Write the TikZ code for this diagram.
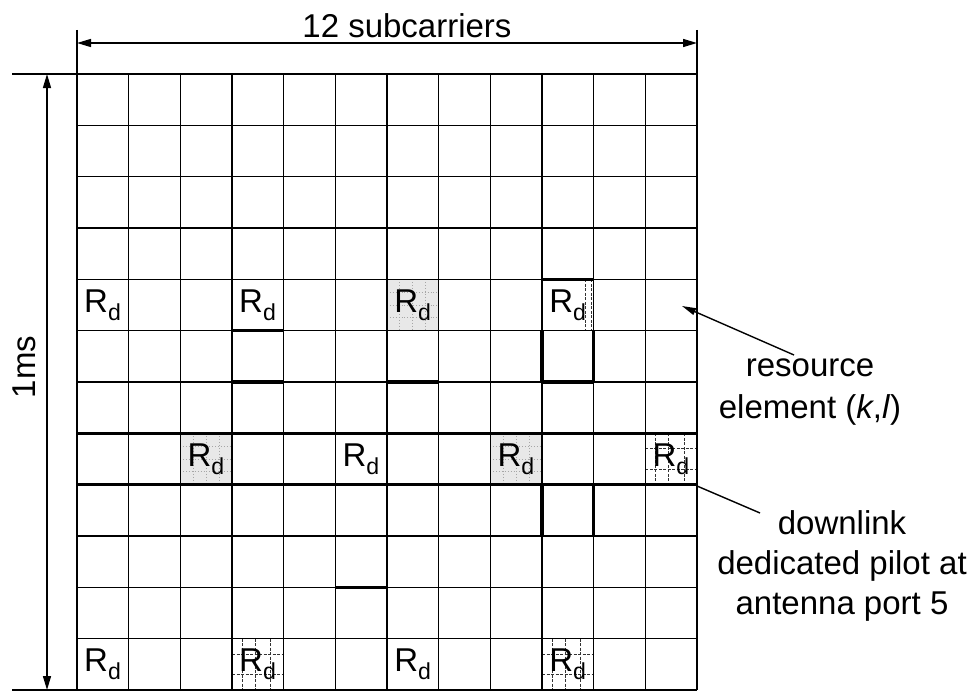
\documentclass[tikz,border=0pt]{standalone}
\usepackage{fontspec}
\setmainfont{Liberation Sans}
\usetikzlibrary{arrows.meta,positioning}

% cell size of the resource grid
\def\cw{51.667}
\def\ch{51.333}

% light dotted shading of one cell (column, row)
\newcommand{\dotshade}[2]{%
  \fill[gray!18] ({77+(#1-1)*\cw},{74+(#2-1)*\ch}) rectangle +(\cw,\ch);
  \foreach \f in {0.25,0.5,0.75} {
    \draw[gray!70, dotted, line width=0.9pt] ({77+(#1-1+\f)*\cw},{74+(#2-1)*\ch}) -- +(0,\ch);
    \draw[gray!70, dotted, line width=0.9pt] ({77+(#1-1)*\cw},{74+(#2-1+\f)*\ch}) -- +(\cw,0);
  }
}
% dark cross hatching of one cell (column, row)
\newcommand{\gridshade}[2]{%
  \foreach \f in {0.2,0.45,0.75} {
    \draw[black!80, dash pattern=on 3pt off 1.5pt, line width=1pt] ({77+(#1-1+\f)*\cw},{74+(#2-1)*\ch}) -- +(0,\ch);
  }
  \foreach \f in {0.3,0.7} {
    \draw[black!80, dash pattern=on 3pt off 1.5pt, line width=1pt] ({77+(#1-1)*\cw},{74+(#2-1+\f)*\ch}) -- +(\cw,0);
  }
}
% heavy edge of one cell: column, row, from (dx,dy) to (dx,dy) in cell units
\newcommand{\heavyedge}[6]{%
  \draw[line width=3.4pt] ({77+(#1-1+#3)*\cw},{74+(#2-1+#4)*\ch}) -- ({77+(#1-1+#5)*\cw},{74+(#2-1+#6)*\ch});
}

\begin{document}
\begin{tikzpicture}[x=1pt, y=-1pt,
    gridline/.style={line width=1.5pt, black},
    boldline/.style={line width=2.8pt, black},
    dimline/.style={line width=1.4pt, {Triangle[length=14pt,width=8pt]}-{Triangle[length=14pt,width=8pt]}},
    extline/.style={line width=1.4pt},
    pointer/.style={line width=1.4pt, -{Triangle[length=14pt,width=7pt]}},
    rd/.style={font=\fontsize{33}{36}\selectfont, inner sep=0pt},
    label/.style={font=\fontsize{33}{40}\selectfont, align=center, inner sep=0pt}
]
\useasboundingbox (0,0) rectangle (971,693);

% shaded pilot cells
\dotshade{7}{5}
\dotshade{3}{8}
\dotshade{9}{8}
\gridshade{12}{8}
\gridshade{4}{12}
\gridshade{10}{12}
\foreach \f in {0.85,0.95} {
  \draw[black!80, dash pattern=on 3pt off 1.5pt, line width=1pt] ({77+(9+\f)*\cw},{74+4*\ch}) -- +(0,\ch);
}

% resource grid
\foreach \i in {0,...,12} {
  \draw[gridline] ({77+\i*\cw},74) -- ({77+\i*\cw},690);
  \draw[gridline] (77,{74+\i*\ch}) -- (697,{74+\i*\ch});
}
\draw[boldline] (77,{74+3*\ch}) -- (697,{74+3*\ch});
\draw[boldline] (77,{74+7*\ch}) -- (697,{74+7*\ch});
\draw[boldline] (77,{74+8*\ch}) -- (697,{74+8*\ch});
\draw[boldline] (697,74) -- (697,690);

% heavier cell edges
\heavyedge{4}{6}{0}{0}{1}{0}
\heavyedge{4}{6}{0}{1}{1}{1}
\heavyedge{7}{6}{0}{1}{1}{1}
\heavyedge{10}{5}{0}{0}{1}{0}
\heavyedge{10}{6}{0}{0}{0}{1}
\heavyedge{10}{6}{1}{0}{1}{1}
\heavyedge{10}{6}{0}{1}{1}{1}
\heavyedge{10}{9}{0}{0}{0}{1}
\heavyedge{10}{9}{1}{0}{1}{1}
\heavyedge{6}{11}{0}{0}{1}{0}

% pilot symbols
\foreach \r/\c in {5/1,5/4,5/7,5/10,8/3,8/6,8/9,8/12,12/1,12/4,12/7,12/10} {
  \node[rd] (rd-\r-\c) at ({77+(\c-0.5)*\cw},{74+(\r-0.5)*\ch}) {R\textsubscript{d}};
}

% dimension: 12 subcarriers
\coordinate (sc-l) at (77,43);
\coordinate (sc-r) at (697,43);
\draw[extline] (77,30) -- (77,74);
\draw[extline] (697,30) -- (697,74);
\draw[dimline] (sc-l) -- (sc-r);
\node[label] (sc-text) at (407,26) {12 subcarriers};

% dimension: 1ms
\coordinate (ms-t) at (47,74);
\coordinate (ms-b) at (47,690);
\draw[extline] (12,74) -- (77,74);
\draw[extline] (12,690) -- (77,690);
\draw[dimline] (ms-t) -- (ms-b);
\node[label, rotate=90] (ms-text) at (24,367) {1ms};

% callouts
\node[label, font=\fontsize{33}{42}\selectfont] (re-text) at (810,392) {resource\\element (\textit{k},\textit{l})};
\node[label] (pilot-text) at (842,566) {downlink\\dedicated pilot at\\antenna port 5};
\coordinate (re-tail) at (794,355);
\coordinate (re-cell) at (682,306);
\coordinate (pilot-tail) at (760,513);
\coordinate (pilot-cell) at (697,486);
\draw[pointer] (re-tail) -- (re-cell);
\draw[line width=1.4pt] (pilot-tail) -- (pilot-cell);
\end{tikzpicture}
\end{document}
